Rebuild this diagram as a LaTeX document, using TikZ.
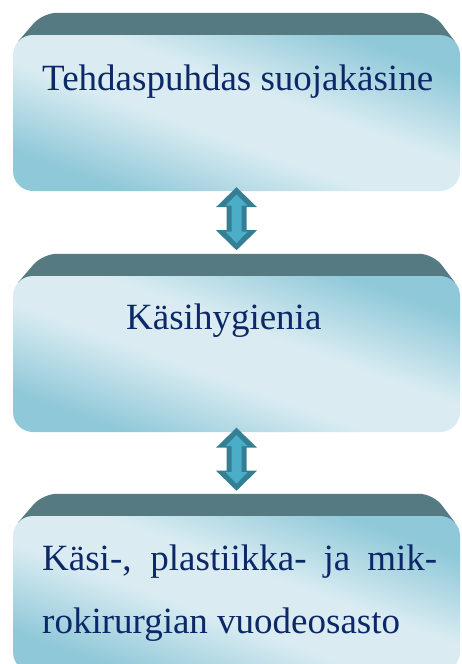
\documentclass[tikz,border=0pt]{standalone}
\usepackage{fontspec}
\setmainfont{Liberation Serif}
\usetikzlibrary{calc}
\definecolor{bandc}{RGB}{86,122,130}
\definecolor{facedark}{RGB}{143,200,216}
\definecolor{facelight}{RGB}{218,236,242}
\definecolor{txtc}{RGB}{12,40,102}
\definecolor{arrowout}{RGB}{52,127,148}
\definecolor{arrowin}{RGB}{75,173,200}
\pgfdeclareverticalshading{faceshade}{100bp}{color(0bp)=(facedark);
  color(26bp)=(facedark); color(44bp)=(facelight); color(56bp)=(facelight);
  color(74bp)=(facedark); color(100bp)=(facedark)}
\tikzset{
  facebox/.style={rectangle, rounded corners=20pt, minimum width=447pt,
    minimum height=156pt, inner sep=0pt, shading=faceshade, shading angle=-20},
  ghost/.style={rectangle, minimum width=447pt, minimum height=156pt,
    inner sep=0pt},
  bandfill/.style={fill=bandc},
  lbl/.style={font=\fontsize{37}{44}\selectfont, text=txtc, inner sep=0pt,
    anchor=base west},
  arrout/.style={fill=arrowout},
  arrin/.style={fill=arrowin},
}
\newcommand{\bandat}[1]{%
  \fill[bandfill] ($(#1.north west)+(5,7)$) [rounded corners=14pt]
    -- ($(#1.north west)+(30,-22)$) -- ($(#1.north east)+(-27,-22)$)
    [sharp corners] -- ($(#1.north east)+(-5,7)$) -- cycle;}
\newcommand{\biarrow}[1]{%
  \begin{scope}[shift={(#1)}]
    \fill[arrout] (0,-31.5) -- (20.5,-11.5) -- (10,-11.5) -- (10,11.5)
      -- (20.5,11.5) -- (0,31.5) -- (-20.5,11.5) -- (-10,11.5)
      -- (-10,-11.5) -- (-20.5,-11.5) -- cycle;
    \fill[arrin] (0,-24) -- (11,-13) -- (5,-13) -- (5,13) -- (11,13)
      -- (0,24.5) -- (-11,13) -- (-5,13) -- (-5,-13) -- (-11,-13) -- cycle;
  \end{scope}}
\begin{document}
\begin{tikzpicture}[x=1pt,y=-1pt]
  \clip (0,0) rectangle (461,664);
  \fill[white] (0,0) rectangle (461,664);
  % box geometry
  \path (236.5,113) node[ghost] (g1) {};
  \path (236.5,354) node[ghost] (g2) {};
  \path (236.5,594) node[ghost] (g3) {};
  \bandat{g1}
  \bandat{g2}
  \bandat{g3}
  \node[facebox] (b1) at (g1) {};
  \node[facebox] (b2) at (g2) {};
  \node[facebox] (b3) at (g3) {};
  % texts
  \node[lbl] (t1) at (42,90) {Tehdaspuhdas suojakäsine};
  \node[lbl] (t2) at (126,329) {Käsihygienia};
  \node[lbl] (t3a) at (42,570) {\makebox[395pt][s]{Käsi-, plastiikka- ja mik-}};
  \node[lbl] (t3b) at (42,633) {rokirurgian vuodeosasto};
  % connectors
  \coordinate (a1) at ($(b1.south)+(0,27.5)$);
  \coordinate (a2) at ($(b2.south)+(0,27)$);
  \biarrow{a1}
  \biarrow{a2}
\end{tikzpicture}
\end{document}
